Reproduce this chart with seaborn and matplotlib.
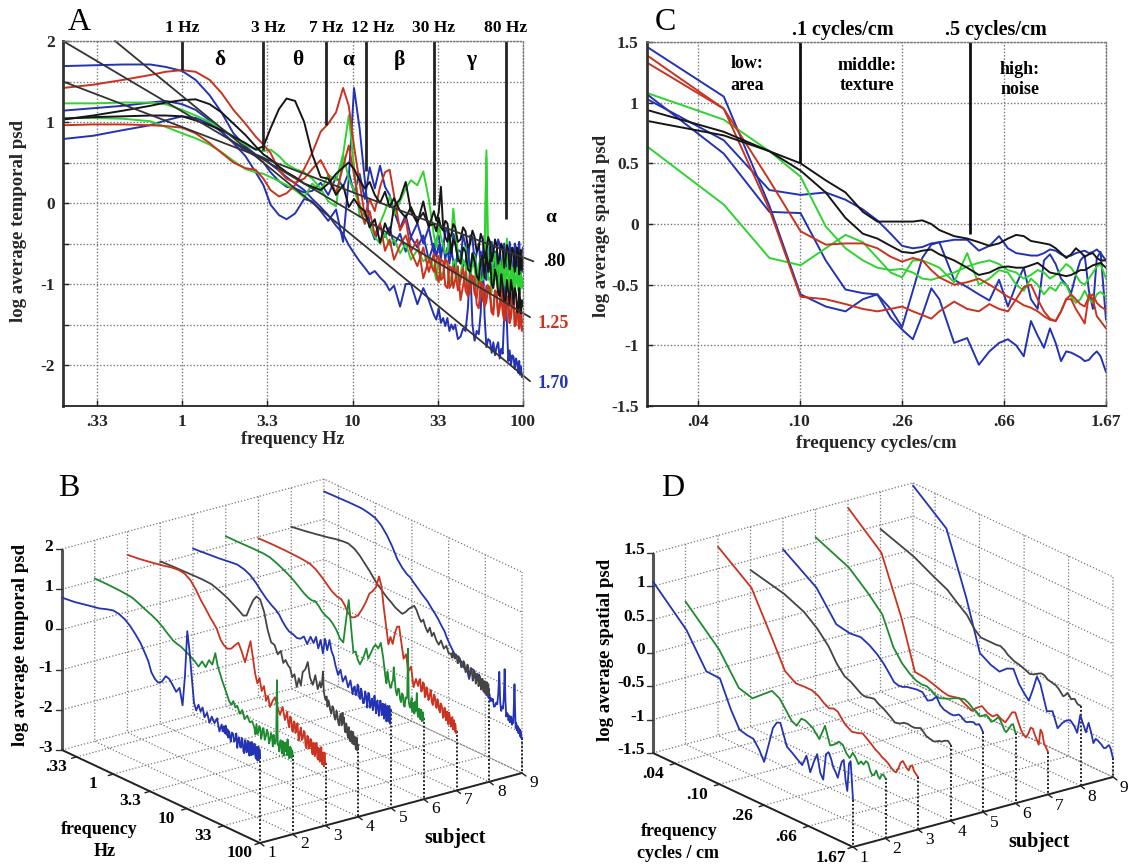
import numpy as np
import matplotlib
matplotlib.use("Agg")
import matplotlib.pyplot as plt
from matplotlib.ticker import NullLocator
import seaborn as sns

sns.set_theme(style="white")
plt.rcParams["font.family"] = ["Liberation Serif", "DejaVu Serif"]

# temporal spectra, frequency in Hz
temporal_hz = [
    0.2, 0.3, 0.45, 0.65, 0.8, 1, 1.2, 1.45, 1.7, 2, 2.35, 2.7, 3,
    3.3, 3.7, 4.1, 4.6, 5.2, 5.8, 6.5, 7.2, 8, 8.8, 9.5, 10.2, 11,
    11.8, 12.6, 13.5, 14.5, 15.5, 16.5, 17.5, 19, 20.5, 22, 24, 26, 28,
    30, 31, 32, 33, 34, 35, 36, 37, 38, 39, 40, 41.5, 43, 44.5, 46, 47.5, 49, 50.5, 52,
    53.5, 55, 56.5, 58, 59.5, 61, 62.5,
    64, 65.5, 67, 68.5, 70, 71.5, 73, 74.5, 76, 77.5, 79, 80.5, 82, 83.5, 85, 86.5, 88,
    89.5, 91, 92.5, 94, 95, 96, 97, 98.5, 100]
temporal_s1 = [
    .79, .83, .90, .96, 1.02, 1.07, 1.05, .98, .88, .74, .58, .38, .22,
    -.02, -.15, -.20, -.13, .05, .02, -.10, -.22, -.08, -.48, .30, 1.42, .92,
    .28, -.28, -.45, -.28, -.42, -.30, -.52, -.38, -.60, -.42, -.55, -.40, -.70,
    -.50, -.66, -.52, -.68, -.48, -.70, -.55, -.75, -.58, -.72, -.82, -.58, -.60, -.78, -.72, -.55, -.90, -.66, -.62,
    -.84, -.85, -.60, -.70, -.92, -.95, -.62,
    -.66, -.90, -.88, -.60, -.72, -.95, -.62, -.80, -.92, -.58, -.68, -.88, -.85, -.60, -.60, -.90, -.95,
    -.65, -.70, -.98, -.88, -.62, -.75, -.95, -.68, -.85]
temporal_s2 = [
    1.05, 1.05, 1.04, 1.01, .94, .86, .80, .72, .63, .52, .42, .38, .36,
    .32, .27, .22, .16, .07, .24, .14, .35, .28, .60, .30, .15, -.02,
    -.15, -.28, -.42, -.50, -.38, -.52, -.45, -.62, -.50, -.70, -.58, -.72, -.66,
    -.80, -.95, -.68, -.92, -.85, -.70, -.74, -1.00, -.90, -.72, -.70, -.98, -.88, -.70, -.78, -1.02, -.92, -.74, -.80,
    -1.05, -.75, -.96, -.95, -.80, .65, -.95,
    -.92, -1.10, -.85, -.80, -.98, -1.12, -.80, -.90, -1.15, -.82, -1.02, -.80, -.88, -1.10, -.70, -.95, -1.00,
    -1.15, -.90, -.85, -1.05, -.88, -1.12, -.95, -.92, -1.03]
temporal_s3 = [
    1.42, 1.46, 1.52, 1.58, 1.62, 1.64, 1.62, 1.52, 1.36, 1.15, .98, .82, .72,
    .62, .40, .30, .25, .30, .42, .53, .35, .12, .45, .71, .35, -.05,
    -.26, -.10, -.40, -.25, -.59, -.45, -.70, -.52, -.40, -.60, -.78, -.55, -.85,
    -.62, -.88, -.98, -.70, -.72, -1.02, -1.05, -.78, -.80, -1.05, -.95, -.78, -1.20, -1.02, -.85, -1.15, -1.10, -.90, -.92,
    -1.25, -1.30, -.98, -1.00, -1.28, -1.22, -1.02,
    -1.05, -1.35, -1.38, -1.08, -1.12, -1.40, -1.30, -1.05, -1.05, -1.42, -1.45, -1.15, -1.18, -1.48, -1.35, -1.12, -1.10,
    -1.52, -1.50, -1.22, -1.25, -1.55, -1.42, -1.20, -1.48, -1.45]
temporal_s4 = [
    1.04, 1.06, 1.07, 1.08, 1.08, 1.07, 1.02, .96, .90, .82, .74, .66, .70,
    .92, 1.16, 1.29, 1.26, 1.00, .60, .32, .30, .10, .22, -.05, .05, -.05,
    -.10, -.30, -.20, -.49, -.25, -.40, -.05, .05, .26, -.10, -.25, .02, -.30,
    -.10, -.22, -.12, .20, -.30, -.42, -.48, -.38, -.62, -.45, -.50, -.68, -.75, -.55, -.60, -.82, -.85, -.62, -.72,
    -.90, -.95, -.70, -.65, -.92, -.60, -.85,
    -.70, -1.00, -1.05, -.82, -.90, -1.10, -1.15, -.88, -1.02, -1.22, -1.20, -.95, -1.10, -1.25, -.95, -1.05, -1.25,
    -1.05, -1.12, -1.35, -1.30, -1.05, -1.18, -1.36, -1.20, -1.28]
temporal_s5 = [
    1.14, 1.17, 1.20, 1.24, 1.26, 1.22, 1.15, 1.02, .88, .75, .65, .58, .50,
    .38, .27, .20, .18, .13, .15, .25, .10, .32, .20, .38, .12, .36,
    .05, .44, .18, .46, .20, .10, -.10, -.31, -.15, -.42, -.25, -.50, -.30,
    -.62, -.45, -.40, -.60, -.58, -.32, -.35, -.62, -.65, -.38, -.45, -.72, -.70, -.40, -.52, -.78, -.40, -.42, -.75,
    -.62, -.50, -.78, -.65, -.40, -.58, -.82,
    -.55, -.48, -.70, -.85, -.62, -.45, -.52, -.80, -.78, -.50, -.60, -.86, -.72, -.48, -.62, -.90, -.80,
    -.50, -.55, -.88, -.85, -.48, -.70, -.92, -.60, -.55]
temporal_s6 = [
    1.23, 1.23, 1.24, 1.24, 1.22, 1.15, 1.08, 1.00, .92, .82, .72, .66, .64,
    .66, .58, .48, .42, .38, .30, .18, .02, -.04, .60, 1.08, .45, -.17,
    -.12, -.30, -.39, -.25, -.10, .08, -.15, .02, .18, .28, .22, .39, .05,
    -.40, -.55, -.25, -.42, -.52, -.62, -.60, -.45, -.42, -.07, -.30, -.62, -.73, -.55, -.55, -.78, -.85, -.62, -.65,
    -.90, -.92, -.68, -.70, -.65, .56, -.75,
    -.85, -.88, -.72, -.62, -.95, -.78, -.72, -.98, -.68, -.90, -.70, -.44, -.90, -1.02, -1.00, -.80, -.85,
    -1.05, -.95, -.80, -1.08, -.92, -1.05, -.85, -1.05, -.98]
temporal_s7 = [
    .96, .97, .97, .96, .95, .93, .86, .74, .62, .50, .43, .41, .30,
    .16, .08, .12, .22, .42, .62, .88, .98, 1.12, 1.42, 1.20, .70, .25,
    -.16, .05, -.10, .20, .38, .41, .10, -.34, -.20, -.60, -.45, -.93, -.70,
    -.85, -.70, -.65, -.95, -.92, -.70, -.72, -1.05, -1.00, -.78, -.85, -1.08, -.95, -.80, -1.08, -1.15, -.88, -.90, -1.12,
    -1.18, -.95, -1.02, -1.20, -1.25, -1.02, -1.05,
    -1.15, -1.35, -1.30, -1.08, -1.10, -1.38, -1.25, -1.15, -1.35, -1.45, -1.15, -1.20, -1.30, -1.48, -1.42, -1.25, -1.22,
    -1.52, -1.40, -1.28, -1.48, -1.55, -1.35, -1.40, -1.58, -1.52]
temporal_s8 = [
    1.03, 1.08, 1.14, 1.20, 1.24, 1.27, 1.28, 1.22, 1.12, .98, .84, .70, .60,
    .54, .45, .38, .32, .24, .20, .16, .24, .36, .44, .50, .42, .28,
    .18, .26, .10, .00, .14, -.05, .06, -.10, -.18, -.05, -.22, -.12, -.28,
    -.26, -.35, -.18, -.30, -.34, -.22, -.25, -.42, -.40, -.26, -.30, -.48, -.45, -.30, -.35, -.55, -.50, -.34, -.42,
    -.60, -.55, -.38, -.45, -.68, -.60, -.42,
    -.48, -.72, -.62, -.45, -.52, -.75, -.66, -.50, -.55, -.80, -.70, -.52, -.58, -.82, -.72, -.55, -.60,
    -.85, -.74, -.55, -.62, -.88, -.76, -.58, -.82, -.70]
temporal_s9 = [
    1.69, 1.70, 1.71, 1.71, 1.68, 1.63, 1.52, 1.33, 1.12, .86, .70, .60, .56,
    .48, .40, .32, .24, .16, .05, -.05, -.15, -.28, -.38, -.52, -.62, -.72,
    -.80, -.88, -.84, -.92, -.98, -1.08, -1.02, -1.28, -1.00, -1.00, -1.25, -1.05, -1.20,
    -1.38, -1.44, -1.30, -1.48, -1.42, -1.52, -1.42, -1.58, -1.50, -1.56, -1.50, -1.68, -1.65, -1.55, -1.58, -1.30, -.75, -1.50, -1.70,
    -1.58, -1.62, -1.35, -.62, -1.40, -1.78, -1.68,
    -1.70, -1.85, -1.72, -1.88, -1.78, -1.72, -1.92, -1.80, -1.86, -1.40, -.88, -1.50, -1.95, -1.82, -2.00, -1.88, -1.90,
    -2.05, -1.92, -1.98, -2.10, -1.95, -2.12, -2.02, -2.15, -2.12]

# spatial spectra, cycles/cm
spatial_cm = [
    .0265, .053, .08, .106, .133, .159, .186, .212, .239, .265,
    .292, .318, .345, .371, .424, .477, .53, .583, .636, .689,
    .742, .795, .848, .901, .954, 1.007, 1.06, 1.113, 1.166, 1.219,
    1.272, 1.325, 1.378, 1.431, 1.484, 1.537, 1.59, 1.67]
spatial_s1 = [
    1.07, .58, .10, .09, -.30, -.54, -.57, -.58, -.70, -.85,
    -.55, -.28, -.17, -.15, -.46, -.52, -.58, -.63, -.46, -.68,
    -.50, -.36, -.62, -.70, -.30, -.25, -.33, -.45, -.50, -.57,
    -.42, -.30, -.26, -.55, -.70, -.28, -.23, -.79]
spatial_s2 = [
    .64, .16, -.28, -.34, -.20, -.09, -.15, -.28, -.40, -.44,
    -.30, -.30, -.33, -.36, -.48, -.24, -.50, -.45, -.38, -.40,
    -.50, -.55, -.45, -.50, -.58, -.52, -.55, -.48, -.50, -.60,
    -.65, -.62, -.55, -.62, -.65, -.58, -.56, -.60]
spatial_s3 = [
    1.33, .95, .36, -.06, -.17, -.16, -.16, -.20, -.27, -.31,
    -.28, -.30, -.38, -.44, -.50, -.48, -.45, -.50, -.55, -.60,
    -.63, -.67, -.69, -.72, -.76, -.79, -.80, -.72, -.62, -.58,
    -.62, -.66, -.68, -.60, -.58, -.65, -.68, -.71]
spatial_s4 = [
    .85, .73, .60, .44, .26, .05, -.08, -.12, -.18, -.23,
    -.24, -.22, -.21, -.25, -.30, -.36, -.42, -.40, -.36, -.35,
    -.36, -.36, -.34, -.32, -.36, -.40, -.41, -.42, -.43, -.42,
    -.40, -.38, -.38, -.36, -.34, -.33, -.32, -.36]
spatial_s5 = [
    1.03, .69, .28, .24, .26, .20, .12, .03, -.08, -.18,
    -.20, -.19, -.16, -.15, -.13, -.13, -.22, -.18, -.10, -.20,
    -.24, -.25, -.26, -.26, -.24, -.21, -.22, -.25, -.27, -.26,
    -.24, -.23, -.22, -.24, -.23, -.21, -.24, -.30]
spatial_s6 = [
    1.08, .86, .60, .39, -.02, -.20, -.30, -.36, -.38, -.37,
    -.40, -.45, -.46, -.44, -.40, -.35, -.32, -.30, -.33, -.38,
    -.40, -.45, -.42, -.38, -.40, -.45, -.42, -.38, -.33, -.36,
    -.42, -.48, -.50, -.45, -.40, -.35, -.33, -.45]
spatial_s7 = [
    1.39, .95, .12, -.60, -.62, -.66, -.70, -.72, -.70, -.68,
    -.72, -.75, -.78, -.72, -.64, -.70, -.72, -.66, -.70, -.72,
    -.62, -.52, -.50, -.62, -.72, -.78, -.80, -.72, -.62, -.62,
    -.70, -.76, -.82, -.58, -.62, -.76, -.80, -.86]
spatial_s8 = [
    .94, .76, .60, .50, .36, .26, .10, .02, .02, .02,
    .02, .03, .00, -.05, -.10, -.12, -.15, -.18, -.16, -.12,
    -.09, -.10, -.14, -.15, -.16, -.17, -.20, -.24, -.28, -.25,
    -.20, -.23, -.27, -.25, -.24, -.28, -.30, -.30]
spatial_s9 = [
    1.46, 1.05, .15, -.58, -.68, -.72, -.62, -.58, -.77, -.87,
    -.95, -.75, -.53, -.62, -.98, -.94, -1.16, -1.05, -.98, -.95,
    -1.00, -1.09, -.80, -.92, -1.02, -.86, -.98, -1.13, -1.05, -1.06,
    -1.08, -1.10, -1.13, -1.12, -1.08, -1.05, -1.09, -1.22]

temporal = [temporal_s1, temporal_s2, temporal_s3, temporal_s4, temporal_s5,
            temporal_s6, temporal_s7, temporal_s8, temporal_s9]
spatial = [spatial_s1, spatial_s2, spatial_s3, spatial_s4, spatial_s5,
           spatial_s6, spatial_s7, spatial_s8, spatial_s9]
subjects = [1, 2, 3, 4, 5, 6, 7, 8, 9]

# fitted slopes in A: [f start, f end], [z start, z end]
fit_hz = [[0.2, 115], [0.2, 110], [0.404, 110]]
fit_z = [[1.5, -0.72], [2, -1.41], [2, -2.2]]

# band edges
band_hz = [1, 3, 7, 12, 30, 80]
band_end = [1.64, .65, .96, .40, -.03, -.20]
band_names = ["1 Hz", "3 Hz", "7 Hz", "12 Hz", "30 Hz", "80 Hz"]
cm_edges = [.105, .49]
cm_end = [.5, -.08]
cm_names = [".1 cycles/cm", ".5 cycles/cm"]

hz_ticks = [.316, 1, 3.16, 10, 31.6, 100]
hz_labels = [".33", "1", "3.3", "10", "33", "100"]
cm_ticks = [.0419, .105, .2647, .665, 1.67]
cm_labels = [".04", ".10", ".26", ".66", "1.67"]
temp_z = [2, 1, 0, -1, -2, -3]
temp_z_labels = ["2", "1", "0", "-1", "-2", "-3"]
spat_z = [1.5, 1, .5, 0, -.5, -1, -1.5]
spat_z_labels = ["1.5", "1", "0.5", "0", "-0.5", "-1", "-1.5"]

BLUE, RED = "#2333b4", "#c9331f"
FLAT_GREEN, DARK_GREEN = "#2fd32f", "#1e8a30"
flat_colors = [BLUE, FLAT_GREEN, RED, "#161616", BLUE, FLAT_GREEN, RED, "#161616", BLUE]
box_colors = [BLUE, DARK_GREEN, RED, "#444444", BLUE, DARK_GREEN, RED, "#444444", BLUE]
draw_order = [0, 4, 8, 1, 5, 2, 6, 3, 7]

W, H = 1130, 864
fig = plt.figure(figsize=(W / 100, H / 100), dpi=100)


def flat_axes(left, top, right, bottom):
    ax = fig.add_axes([left / W, 1 - bottom / H, (right - left) / W, (bottom - top) / H])
    ax.set_xscale("log")
    ax.grid(True, which="major", color="#777777", linestyle=(0, (1, 1.4)), linewidth=1)
    ax.set_axisbelow(True)
    for side in ["top", "right"]:
        ax.spines[side].set_color("#777777")
        ax.spines[side].set_linestyle((0, (1, 1.4)))
        ax.spines[side].set_linewidth(1)
    ax.spines["left"].set_color("#333333")
    ax.spines["left"].set_linewidth(2)
    ax.spines["bottom"].set_color("#222222")
    ax.spines["bottom"].set_linewidth(1.3)
    ax.tick_params(axis="both", which="major", direction="in", length=4, width=1,
                   color="#222222", labelsize=12.5, pad=6, left=True, bottom=True)
    return ax


# Panel A
ax_a = flat_axes(63, 41, 523, 405.5)
for i in draw_order:
    sns.lineplot(x=temporal_hz, y=temporal[i], sort=False, estimator=None, errorbar=None,
                 color=flat_colors[i], linewidth=1.4, ax=ax_a)
for fx, fz in zip(fit_hz, fit_z):
    sns.lineplot(x=fx, y=fz, sort=False, estimator=None, errorbar=None, color="#333333",
                 linewidth=1.3, clip_on=False, ax=ax_a)
for f, z_end in zip(band_hz, band_end):
    ax_a.plot([f, f], [2, z_end], color="#222222", linewidth=2, solid_capstyle="butt")
ax_a.set_xlim(0.2, 100)
ax_a.set_ylim(-2.5, 2)
ax_a.set_yticks(np.arange(-2, 2.5, .5))
ax_a.set_yticklabels(["-2", "", "-1", "", "0", "", "1", "", "2"], fontweight="bold")
ax_a.set_xticks(hz_ticks)
ax_a.set_xticklabels(hz_labels, fontweight="bold")
ax_a.xaxis.set_minor_locator(NullLocator())
ax_a.set_xlabel("frequency Hz", fontsize=13, fontweight="bold", labelpad=1)
ax_a.set_ylabel("log average temporal psd", fontsize=13.5, fontweight="bold")
ax_a.yaxis.set_label_coords((27 - 63) / 460, .506)

# Panel C
ax_c = flat_axes(647, 42, 1106, 406)
for i in draw_order:
    sns.lineplot(x=spatial_cm, y=spatial[i], sort=False, estimator=None, errorbar=None,
                 color=flat_colors[i], linewidth=1.4, ax=ax_c)
for f, z_end in zip(cm_edges, cm_end):
    ax_c.plot([f, f], [1.5, z_end], color="#111111", linewidth=2, solid_capstyle="butt")
ax_c.set_xlim(.0265, 1.67)
ax_c.set_ylim(-1.5, 1.5)
ax_c.set_yticks(spat_z)
ax_c.set_yticklabels(spat_z_labels, fontweight="bold")
ax_c.set_xticks(cm_ticks)
ax_c.set_xticklabels(cm_labels, fontweight="bold")
ax_c.xaxis.set_minor_locator(NullLocator())
ax_c.set_xlabel("frequency cycles/cm", fontsize=13.5, fontweight="bold", labelpad=3)
ax_c.set_ylabel("log average spatial psd", fontsize=13.5, fontweight="bold")
ax_c.yaxis.set_label_coords((610 - 647) / 459, .495)

# overlay in picture pixels for the two box panels and the free text
ov = fig.add_axes([0, 0, 1, 1], zorder=5)
ov.set_xlim(0, W)
ov.set_ylim(H, 0)
ov.axis("off")
ov.patch.set_alpha(0)


def make_box(origin, fvec, svec, unit, zlim, flim):
    ox, oy = origin
    lo, hi = np.log10(flim[0]), np.log10(flim[1])

    def proj(f, s, z):
        t = (np.log10(np.asarray(f, dtype=float)) - lo) / (hi - lo)
        k = (np.asarray(s, dtype=float) - 1) / 8
        return (ox + fvec[0] * t + svec[0] * k,
                oy + fvec[1] * t + svec[1] * k - (np.asarray(z, dtype=float) - zlim[0]) * unit)
    return proj


def draw_box(proj, zticks, fticks, flim, zlim):
    grid = dict(color="#777777", linestyle=(0, (1, 1.6)), linewidth=.9, zorder=1)
    for z in zticks:
        xs, ys = proj([flim[0], flim[0], flim[1]], [1, 9, 9], [z, z, z])
        ov.plot(xs, ys, **grid)
    for s in subjects:
        xs, ys = proj([flim[0], flim[0], flim[1]], [s, s, s], [zlim[1], zlim[0], zlim[0]])
        ov.plot(xs, ys, **grid)
    for f in fticks:
        xs, ys = proj([f, f, f], [1, 9, 9], [zlim[0], zlim[0], zlim[1]])
        ov.plot(xs, ys, **grid)
    # solid axes
    xs, ys = proj([flim[0], flim[0]], [1, 1], [zlim[0], zlim[1]])
    ov.plot(xs, ys, color="#555555", linewidth=2.2, zorder=3, solid_capstyle="butt")
    xs, ys = proj([flim[0], flim[1], flim[1]], [1, 1, 9], [zlim[0]] * 3)
    ov.plot(xs, ys, color="#222222", linewidth=1.4, zorder=3)
    for z in zticks:
        xs, ys = proj([flim[0], flim[0]], [1, 1], [z, z])
        ov.plot([xs[0] - 6, xs[0]], [ys[0], ys[0]], color="#333333", linewidth=1, zorder=3)
    for f in fticks:
        xs, ys = proj([f], [1], [zlim[0]])
        ov.plot([xs[0] - 5, xs[0]], [ys[0] + 1.5, ys[0]], color="#222222", linewidth=1, zorder=3)
    for s in subjects:
        xs, ys = proj([flim[1]], [s], [zlim[0]])
        ov.plot([xs[0], xs[0] + 4], [ys[0], ys[0] + 3], color="#222222", linewidth=1, zorder=3)


def draw_curves(proj, fgrid, curves, zfloor):
    for i in range(8, -1, -1):
        s = subjects[i]
        sx, sy = proj(fgrid, [s] * len(fgrid), curves[i])
        sns.lineplot(x=sx, y=sy, sort=False, estimator=None, errorbar=None,
                     color=box_colors[i], linewidth=1.3, zorder=4, ax=ov)
        xs, ys = proj([fgrid[-1], fgrid[-1]], [s, s], [curves[i][-1], zfloor])
        ov.plot(xs, ys, color="#222222", linestyle=(0, (1, 1)), linewidth=1.4, zorder=3)


proj_b = make_box((62, 750), (198, 93), (262, -70), 40.2, (-3, 2), (0.2, 100))
proj_d = make_box((653, 753), (200, 94), (260, -70), 66.7, (-1.5, 1.5), (.0265, 1.67))

draw_box(proj_b, temp_z, hz_ticks, (0.2, 100), (-3, 2))
draw_curves(proj_b, temporal_hz, temporal, -3)
draw_box(proj_d, spat_z, cm_ticks, (.0265, 1.67), (-1.5, 1.5))
draw_curves(proj_d, spatial_cm, spatial, -1.5)


def label(x, y, s, size=12.5, weight="bold", color="black", ha="center", rotation=0):
    ov.text(x, y, s, fontsize=size, fontweight=weight, color=color, ha=ha, va="center",
            rotation=rotation, zorder=6)


# panel letters
for x, y, s in [(79, 22, "A"), (69, 489, "B"), (665, 22, "C"), (673, 489, "D")]:
    label(x, y, s, size=23, weight="normal")

# panel A text
for x, s in zip([182, 268, 326, 373, 434, 506], band_names):
    label(x, 28, s)
for x, s in zip([220, 298, 348, 399, 471], ["δ", "θ", "α", "β", "γ"]):
    label(x, 60, s, size=15.5)
label(551, 218, "α", size=14)
label(554, 262, ".80", size=13)
label(553, 323, "1.25", size=13, color=RED)
label(553, 383, "1.70", size=13, color=BLUE)

# panel C text
for x, s in zip([843, 996], cm_names):
    label(x, 30, s, size=14.5)
label(747, 64, "low:", size=13)
label(747, 85, "area", size=13)
label(867, 65, "middle:", size=13)
label(867, 86, "texture", size=13)
label(1020, 70, "high:", size=13)
label(1020, 89, "noise", size=13)

# panel B text
label(21, 645, "log average temporal psd", size=13.5, rotation=90)
for z, s in zip(temp_z, temp_z_labels):
    xs, ys = proj_b([0.2], [1], [z])
    label(53, ys[0] - 2, s, ha="right")
for f, s in zip(hz_ticks, hz_labels):
    xs, ys = proj_b([f], [1], [-3])
    label(xs[0] - 20, ys[0] + 10, s)
label(99, 830, "frequency", size=13)
label(105, 852, "Hz", size=13)
for k, s in zip(subjects, subjects):
    xs, ys = proj_b([100], [k], [-3])
    label(xs[0] + 12, ys[0] + 10, str(s), weight="normal")
label(455, 838, "subject", size=14.5)

# panel D text
label(605, 650, "log average spatial psd", size=13.5, rotation=90)
for z, s in zip(spat_z, spat_z_labels):
    xs, ys = proj_d([.0265], [1], [z])
    label(645, ys[0] - 3, s, ha="right")
for f, s in zip(cm_ticks, cm_labels):
    xs, ys = proj_d([f], [1], [-1.5])
    label(xs[0] - 22, ys[0] + 11, s)
label(679, 832, "frequency", size=13)
label(678, 854, "cycles / cm", size=13)
for k, s in zip(subjects, subjects):
    xs, ys = proj_d([1.67], [k], [-1.5])
    label(xs[0] + 11, ys[0] + 11, str(s), weight="normal")
label(1039, 842, "subject", size=14.5)

fig.savefig("out.png", dpi=100, facecolor="white")
